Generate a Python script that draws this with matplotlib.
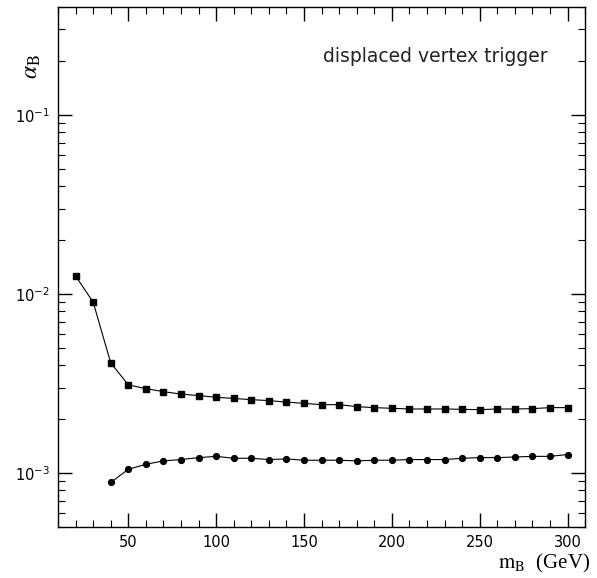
import matplotlib
matplotlib.use("Agg")
import matplotlib.pyplot as plt
from matplotlib.ticker import MultipleLocator, LogLocator, NullFormatter, FixedLocator

plt.rcParams["mathtext.fontset"] = "stix"

# masses (GeV)
mass_sq = [20, 30, 40, 50, 60, 70, 80, 90, 100, 110, 120, 130, 140, 150,
           160, 170, 180, 190, 200, 210, 220, 230, 240, 250, 260, 270, 280, 290, 300]
alpha_sq = [0.0126, 0.0090, 0.00412, 0.00311, 0.00296, 0.00285, 0.00276, 0.00271,
            0.00265, 0.00261, 0.00257, 0.00254, 0.00249, 0.00245, 0.00241, 0.00241,
            0.00235, 0.00232, 0.00230, 0.00228, 0.00228, 0.00228, 0.00227, 0.00226,
            0.00228, 0.00228, 0.00229, 0.00232, 0.00232]

mass_ci = [40, 50, 60, 70, 80, 90, 100, 110, 120, 130, 140, 150, 160, 170, 180,
           190, 200, 210, 220, 230, 240, 250, 260, 270, 280, 290, 300]
alpha_ci = [0.000887, 0.00105, 0.00112, 0.00117, 0.00119, 0.00122, 0.00124, 0.00121,
            0.00121, 0.00119, 0.00120, 0.00118, 0.00118, 0.00118, 0.00117, 0.00118,
            0.00118, 0.00119, 0.00119, 0.00119, 0.00121, 0.00122, 0.00122, 0.00123,
            0.00124, 0.00124, 0.00127]

x_ticks = [50, 100, 150, 200, 250, 300]

fig = plt.figure(figsize=(5.97, 5.78), dpi=100)
ax = fig.add_axes([0.0972, 0.0882, 0.883, 0.8997])

ax.plot(mass_sq, alpha_sq, color="black", lw=0.8, marker="s", ms=4.8)
ax.plot(mass_ci, alpha_ci, color="black", lw=0.8, marker="o", ms=4.2)

ax.set_yscale("log")
ax.set_xlim(10, 310)
ax.set_ylim(5e-4, 0.4)

ax.xaxis.set_major_locator(FixedLocator(x_ticks))
ax.xaxis.set_minor_locator(MultipleLocator(10))
ax.yaxis.set_major_locator(LogLocator(base=10, numticks=10))
ax.yaxis.set_minor_locator(LogLocator(base=10, subs=range(2, 10), numticks=20))
ax.yaxis.set_minor_formatter(NullFormatter())

ax.tick_params(which="both", direction="in", top=True, right=True,
               labelsize=10.5, pad=6, colors="black")
ax.tick_params(which="major", length=10, width=1.0)
ax.tick_params(which="minor", length=5, width=0.8)
for s in ax.spines.values():
    s.set_linewidth(1.0)

ax.text(0.928, 0.905, "displaced vertex trigger", transform=ax.transAxes,
        ha="right", va="center", fontsize=13.5, color="#222222")

fig.text(0.052, 0.885, r"$\alpha_{\mathrm{B}}$", rotation=90, ha="center", va="center",
         fontsize=17)
fig.text(0.988, 0.025, r"$\mathrm{m_B}$  (GeV)", ha="right", va="center",
         fontsize=15, family="Liberation Serif")

fig.savefig("out.png", dpi=100, facecolor="white")
